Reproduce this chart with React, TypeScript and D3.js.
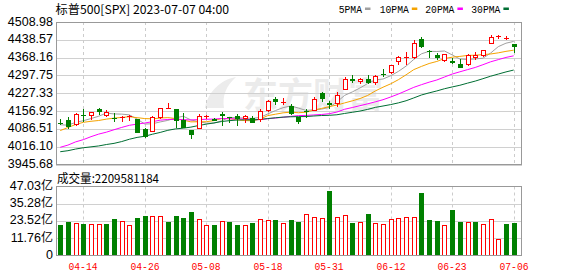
import React from "react";
import * as d3 from "d3";

const dates = ["04-11","04-12","04-13","04-14","04-17","04-18","04-19","04-20","04-21","04-24","04-25","04-26","04-27","04-28","05-01","05-02","05-03","05-04","05-05","05-08","05-09","05-10","05-11","05-12","05-15","05-16","05-17","05-18","05-19","05-22","05-23","05-24","05-25","05-26","05-30","05-31","06-01","06-02","06-05","06-06","06-07","06-08","06-09","06-12","06-13","06-14","06-15","06-16","06-20","06-21","06-22","06-23","06-26","06-27","06-28","06-29","06-30","07-03","07-05","07-06"];
const opens = [4110.29,4121.72,4100.04,4140.11,4137.17,4164.26,4139.33,4130.48,4132.14,4132.07,4126.43,4087.78,4075.29,4129.63,4166.79,4164.10,4122.25,4082.61,4084.73,4136.98,4124.25,4143.74,4132.24,4138.54,4126.65,4127.95,4122.85,4157.68,4204.15,4190.78,4176.80,4132.96,4155.71,4156.16,4226.71,4190.74,4183.03,4241.01,4282.99,4271.34,4285.47,4268.69,4304.88,4308.32,4352.61,4366.29,4365.33,4440.95,4396.11,4380.01,4355.40,4354.17,4344.84,4337.36,4367.48,4374.94,4422.44,4450.48,4442.04,4422.62];
const highs = [4124.26,4134.37,4150.26,4163.19,4151.72,4169.48,4162.57,4148.57,4138.02,4142.41,4126.43,4089.67,4138.24,4170.06,4186.92,4164.10,4148.30,4082.61,4147.02,4142.30,4130.35,4154.28,4132.80,4143.74,4141.25,4135.54,4164.67,4202.20,4212.91,4209.22,4185.68,4132.96,4165.74,4212.87,4231.10,4195.44,4232.43,4290.67,4299.28,4288.33,4299.19,4298.01,4322.62,4340.13,4375.37,4391.82,4439.20,4448.47,4400.15,4386.22,4382.25,4366.55,4362.06,4384.42,4390.35,4398.39,4458.48,4456.46,4454.06,4422.62];
const lows = [4102.61,4086.94,4099.40,4113.20,4123.18,4140.36,4134.49,4114.57,4113.86,4117.77,4071.38,4049.35,4075.29,4127.18,4164.12,4089.72,4088.86,4048.28,4084.73,4123.81,4116.65,4098.92,4109.29,4099.12,4110.27,4109.86,4113.62,4153.14,4180.20,4179.68,4142.54,4103.98,4129.73,4156.16,4192.18,4166.15,4171.64,4241.01,4266.82,4263.09,4263.96,4261.07,4291.70,4304.37,4337.54,4337.85,4362.60,4407.44,4367.19,4360.14,4351.82,4341.34,4328.08,4335.00,4360.22,4371.97,4422.44,4442.29,4436.61,4385.05];
const closes = [4108.94,4091.95,4146.22,4137.64,4151.32,4154.87,4154.52,4129.79,4133.52,4137.04,4071.63,4055.99,4135.35,4169.48,4167.87,4119.58,4090.75,4061.22,4136.25,4138.12,4119.17,4137.64,4130.62,4124.08,4136.28,4109.90,4158.77,4198.05,4191.98,4192.63,4145.58,4115.24,4151.28,4205.45,4205.52,4179.83,4221.02,4282.37,4273.79,4283.85,4267.52,4293.93,4298.86,4338.93,4369.01,4372.59,4425.84,4409.59,4388.71,4365.69,4381.89,4348.33,4328.82,4378.41,4376.86,4396.44,4450.38,4455.59,4446.82,4411.59];
// closes of the 29 sessions before 04-11 (for the moving averages)
const priorCloses = [3970.15,3951.39,3981.35,4045.64,4048.42,3986.37,3992.01,3918.32,3861.59,3855.76,3919.29,3891.93,3960.28,3916.64,3951.57,4002.87,3936.97,3948.72,3970.99,3977.53,3971.27,4027.81,4050.83,4109.31,4124.51,4100.60,4090.38,4105.02,4109.11];
// volume in 亿
const volumes = [20.45,22.95,22.26,21.13,21.58,21.58,21.81,24.99,23.4,20.9,25.67,27.26,27.04,27.04,22.95,27.26,25.67,29.31,24.99,20.9,20.9,23.4,22.95,20.9,20.9,22.26,24.76,24.08,24.31,22.26,24.31,22.95,28.4,26.36,25.67,44.08,26.36,27.72,22.49,22.95,27.95,22.49,21.58,24.99,25.67,26.36,26.36,42.26,24.31,23.63,20.9,31.35,22.95,22.95,22.95,21.81,24.99,11.36,21.81,22.10];

const priceTicks = [4508.98,4438.57,4368.16,4297.75,4227.33,4156.92,4086.51,4016.10,3945.68];
const volTicks = [0,11.76,23.52,35.28,47.03];
const volTickLabels = ["0","11.76亿","23.52亿","35.28亿","47.03亿"];
const dateLabels = ["04-14","04-26","05-08","05-18","05-31","06-12","06-23","07-06"];
const maPeriods = [5,10,20,30];
const maNames = ["5PMA","10PMA","20PMA","30PMA"];
const maColors = ["#a0a0a0","#f5a300","#ff00ff","#006e33"];
const titleText = "标普500[SPX] 2023-07-07 04:00";
const volTitle = "成交量:2209581184";

const RED = "#ff0000";
const GREEN = "#008000";

export default function App() {
  const L = 56, R = 522;
  const pTop = 22, pBot = 164.5;
  const vTop = 186.5, vBot = 255.5;
  const x = d3.scaleBand<string>().domain(dates).range([56.4, 517.5]);
  const cx = (d: string) => Math.round(x(d)! + x.bandwidth() / 2);
  const y = d3.scaleLinear().domain([3945.68, 4508.98]).range([pBot, pTop]);
  const yv = d3.scaleLinear().domain([0, 47.03]).range([vBot, vTop]);

  const all = priorCloses.concat(closes);
  const mas = maPeriods.map((n) =>
    closes.map((_, i) => d3.mean(all.slice(priorCloses.length + i - n + 1, priorCloses.length + i + 1))!)
  );
  const line = d3.line<number>().x((_, i) => x(dates[i])! + x.bandwidth() / 2).y((v) => y(v));

  const bw = 5;
  return (
    <svg width={578} height={276} style={{ display: "block", position: "absolute", left: 0, top: 0 }} fontFamily="Liberation Sans, Arial, sans-serif">
      <rect x={0} y={0} width={578} height={276} fill="#fff" />
      {/* title */}
      <text x={55.5} y={13.5} fontSize={12} fontFamily="Noto Sans CJK SC, sans-serif" textLength={173.5} lengthAdjust="spacingAndGlyphs" fill="#000">{titleText}</text>
      {/* legend */}
      {maNames.map((nm, k) => {
        const xs = [338.7, 379.7, 425.3, 471.3][k];
        const w = nm.length * 5.82;
        return (
          <g key={nm}>
            <text x={xs} y={12.5} fontSize={10.5} fontFamily="Liberation Mono, monospace" textLength={w} lengthAdjust="spacingAndGlyphs" fill="#000">{nm}</text>
            <rect x={xs + w + 3} y={7.5} width={5.5} height={2.5} fill={maColors[k]} />
          </g>
        );
      })}
      {/* watermark */}
      <text x={243} y={108} fontSize={35} fontWeight="bold" fontFamily="Noto Sans CJK SC, sans-serif" fill="#ebebeb" textLength={140} lengthAdjust="spacingAndGlyphs">东方财富</text>
      <path d="M205,108 C208,92 220,80 236,77 C226,86 222,96 224,108 Z" fill="#ececec" />

      {/* price grid */}
      {priceTicks.map((t) => (
        <line key={t} x1={L} x2={R} y1={Math.round(y(t)) + 0.5} y2={Math.round(y(t)) + 0.5} stroke="#d0d0d0" />
      ))}
      {dateLabels.map((d) => (
        <g key={d}>
          <line x1={cx(d) + 0.5} x2={cx(d) + 0.5} y1={pTop} y2={pBot} stroke="#cccccc" strokeDasharray="3,3" />
          <line x1={cx(d) + 0.5} x2={cx(d) + 0.5} y1={vTop} y2={vBot} stroke="#cccccc" strokeDasharray="3,3" />
        </g>
      ))}
      {/* volume grid */}
      {volTicks.slice(1, 4).map((t) => (
        <line key={t} x1={L} x2={R} y1={Math.round(yv(t)) + 0.5} y2={Math.round(yv(t)) + 0.5} stroke="#d0d0d0" />
      ))}

      {/* MA lines */}
      {mas.map((m, k) => (
        <path key={k} d={line(m)!} fill="none" stroke={maColors[k]} strokeWidth={1} />
      ))}

      {/* candles */}
      <g shapeRendering="crispEdges">
        {dates.map((d, i) => {
          const o = opens[i], c = closes[i], h = highs[i], l = lows[i];
          const up = c >= o;
          const col = up ? RED : GREEN;
          const c0 = cx(d);
          const yt = Math.round(y(Math.max(o, c)));
          const yb = Math.round(y(Math.min(o, c)));
          const yh = Math.round(y(h));
          const yl = Math.round(y(l));
          const bodyH = Math.max(yb - yt, 1);
          return (
            <g key={d}>
              {up ? (
                <>
                  <line x1={c0 + 0.5} x2={c0 + 0.5} y1={yh} y2={yt} stroke={col} />
                  <line x1={c0 + 0.5} x2={c0 + 0.5} y1={yt + bodyH} y2={yl} stroke={col} />
                  {bodyH > 1 ? (
                    <rect x={c0 - 2 + 0.5} y={yt + 0.5} width={bw - 1} height={bodyH - 1} fill="#fff" stroke={col} />
                  ) : (
                    <line x1={c0 - 2} x2={c0 + 3} y1={yt + 0.5} y2={yt + 0.5} stroke={col} />
                  )}
                </>
              ) : (
                <>
                  <line x1={c0 + 0.5} x2={c0 + 0.5} y1={yh} y2={yl} stroke={col} />
                  <rect x={c0 - 2} y={yt} width={bw} height={bodyH} fill={col} />
                </>
              )}
            </g>
          );
        })}
      </g>

      {/* volume bars */}
      <g shapeRendering="crispEdges">
        {dates.map((d, i) => {
          const prev = i === 0 ? priorCloses[priorCloses.length - 1] : closes[i - 1];
          const up = closes[i] >= prev;
          const c0 = cx(d);
          const yt = Math.round(yv(volumes[i]));
          return up ? (
            <rect key={d} x={c0 - 2 + 0.5} y={yt + 0.5} width={bw - 1} height={vBot - yt - 1} fill="#fff" stroke={RED} />
          ) : (
            <rect key={d} x={c0 - 2} y={yt} width={bw} height={vBot - yt} fill={GREEN} />
          );
        })}
      </g>

      {/* pane borders */}
      <rect x={L + 0.5} y={pTop + 0.5} width={R - L - 1} height={pBot - pTop - 0.5} fill="none" stroke="#999" shapeRendering="crispEdges" />
      <rect x={L + 0.5} y={vTop} width={R - L - 1} height={vBot - vTop} fill="none" stroke="#999" shapeRendering="crispEdges" />

      {/* price axis labels */}
      {priceTicks.map((t) => (
        <text key={t} x={53} y={y(t) + 3.5} fontSize={12.5} textAnchor="end" fill="#000">{t.toFixed(2)}</text>
      ))}
      {/* volume title */}
      <text x={57} y={182.5} fontSize={12} fontFamily="Noto Sans CJK SC, sans-serif" textLength={102} lengthAdjust="spacingAndGlyphs" fill="#000">{volTitle}</text>
      {/* volume axis labels */}
      {volTicks.map((t, k) => (
        <text key={t} x={53} y={yv(t) + 3.5} fontSize={12.5} textAnchor="end" fill="#000">
          {volTickLabels[k].replace("亿", "")}
          {volTickLabels[k].includes("亿") ? <tspan fontFamily="Noto Sans CJK SC, sans-serif" fontSize={12}>亿</tspan> : null}
        </text>
      ))}
      {/* date labels */}
      {dateLabels.map((d) => (
        <text key={d} x={cx(d) - 14.5} y={269.5} fontSize={10.5} fontFamily="Liberation Mono, monospace" fill={RED} textLength={29} lengthAdjust="spacingAndGlyphs">{d}</text>
      ))}
    </svg>
  );
}
